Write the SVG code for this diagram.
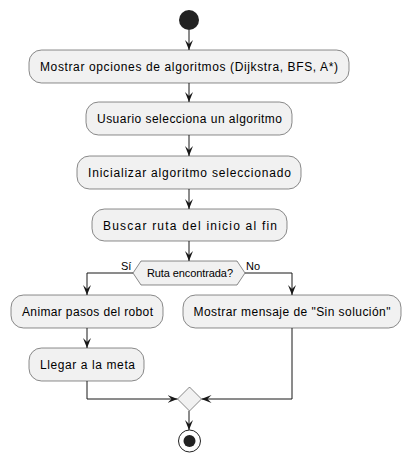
<svg xmlns="http://www.w3.org/2000/svg" width="412" height="464" viewBox="0 0 412 464">
<style>
.box{fill:#F1F1F1;stroke:#181818;stroke-width:0.5}
.t{font-family:"Liberation Sans",Arial,sans-serif;font-size:12px;fill:#000}
.s{font-family:"Liberation Sans",Arial,sans-serif;font-size:11px;fill:#000}
.c{fill:none;stroke:#181818;stroke-width:1}
</style>
<defs>
<marker id="ah" markerUnits="userSpaceOnUse" markerWidth="10" markerHeight="8" refX="10" refY="4" orient="auto">
<path d="M0,0 L10,4 L0,8 L4,4 Z" fill="#181818"/>
</marker>
</defs>
<rect width="412" height="464" fill="#FFFFFF"/>
<g id="connectors">
<path class="c" d="M189,30 V50" marker-end="url(#ah)"/>
<path class="c" d="M189,83 V102" marker-end="url(#ah)"/>
<path class="c" d="M189,135 V156" marker-end="url(#ah)"/>
<path class="c" d="M189,189 V209" marker-end="url(#ah)"/>
<path class="c" d="M189,241 V261" marker-end="url(#ah)"/>
<path class="c" d="M133,273 H87 V295" marker-end="url(#ah)"/>
<path class="c" d="M245,273 H292 V295" marker-end="url(#ah)"/>
<path class="c" d="M87,328 V348" marker-end="url(#ah)"/>
<path class="c" d="M87,381 V399 H177.5" marker-end="url(#ah)"/>
<path class="c" d="M292,328 V399 H201.5" marker-end="url(#ah)"/>
<path class="c" d="M189,411 V430" marker-end="url(#ah)"/>
<text class="s" x="121" y="270">Sí</text>
<text class="s" x="246" y="270">No</text>
</g>
<g id="start"><circle cx="189" cy="20" r="10" fill="#222222"/></g>
<g id="n1"><rect class="box" x="29" y="50" width="320" height="33" rx="12.5"/>
<text class="t" x="40" y="71" textLength="298" lengthAdjust="spacing">Mostrar opciones de algoritmos (Dijkstra, BFS, A*)</text></g>
<g id="n2"><rect class="box" x="86" y="102" width="206" height="33" rx="12.5"/>
<text class="t" x="97" y="123" textLength="185" lengthAdjust="spacing">Usuario selecciona un algoritmo</text></g>
<g id="n3"><rect class="box" x="77" y="156" width="224" height="33" rx="12.5"/>
<text class="t" x="88" y="177" textLength="203" lengthAdjust="spacing">Inicializar algoritmo seleccionado</text></g>
<g id="n4"><rect class="box" x="92" y="209" width="195" height="32" rx="12.5"/>
<text class="t" x="103" y="229.5" textLength="174" lengthAdjust="spacing">Buscar ruta del inicio al fin</text></g>
<g id="d1"><polygon class="box" points="133,273 141,261 237,261 245,273 237,285 141,285"/>
<text class="s" x="147" y="277" textLength="86" lengthAdjust="spacing">Ruta encontrada?</text></g>
<g id="n5"><rect class="box" x="11" y="295" width="152" height="33" rx="12.5"/>
<text class="t" x="22" y="316" textLength="131" lengthAdjust="spacing">Animar pasos del robot</text></g>
<g id="n6"><rect class="box" x="183" y="295" width="218" height="33" rx="12.5"/>
<text class="t" x="193.5" y="316" textLength="197" lengthAdjust="spacing">Mostrar mensaje de "Sin solución"</text></g>
<g id="n7"><rect class="box" x="29" y="348" width="115" height="33" rx="12.5"/>
<text class="t" x="40" y="369" textLength="95" lengthAdjust="spacing">Llegar a la meta</text></g>
<g id="merge"><polygon class="box" points="189.5,387 201.5,399 189.5,411 177.5,399"/></g>
<g id="end"><circle cx="189.5" cy="441" r="11" fill="none" stroke="#222222" stroke-width="1"/>
<circle cx="189.5" cy="441" r="6" fill="#222222"/></g>
</svg>
